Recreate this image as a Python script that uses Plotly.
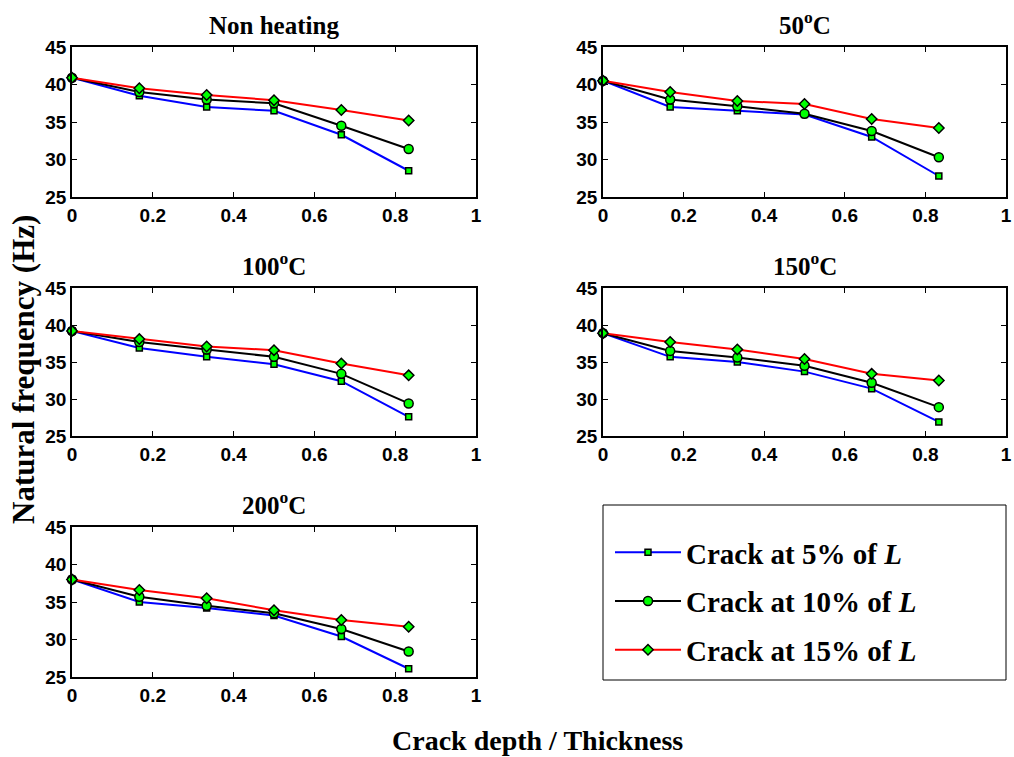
import plotly.graph_objects as go

depth = [0, 1/6, 2/6, 3/6, 4/6, 5/6]
panel_titles = ["Non heating", "50<sup>o</sup>C", "100<sup>o</sup>C", "150<sup>o</sup>C", "200<sup>o</sup>C"]
series_names = ["Crack at 5% of <i>L</i>", "Crack at 10% of <i>L</i>", "Crack at 15% of <i>L</i>"]

nonheat_5 = [40.9, 38.5, 37.0, 36.5, 33.3, 28.5]
nonheat_10 = [40.9, 39.0, 38.0, 37.5, 34.5, 31.4]
nonheat_15 = [40.9, 39.5, 38.6, 37.9, 36.6, 35.2]

t50_5 = [40.5, 37.0, 36.5, 36.0, 33.0, 27.8]
t50_10 = [40.5, 38.0, 37.1, 36.1, 33.8, 30.3]
t50_15 = [40.5, 39.0, 37.8, 37.4, 35.4, 34.2]

t100_5 = [39.2, 36.9, 35.7, 34.7, 32.4, 27.6]
t100_10 = [39.2, 37.7, 36.7, 35.7, 33.4, 29.4]
t100_15 = [39.2, 38.1, 37.1, 36.6, 34.8, 33.2]

t150_5 = [38.9, 35.7, 35.0, 33.7, 31.4, 26.9]
t150_10 = [38.9, 36.5, 35.6, 34.5, 32.2, 28.9]
t150_15 = [38.9, 37.7, 36.7, 35.4, 33.4, 32.5]

t200_5 = [38.0, 35.0, 34.2, 33.2, 30.4, 26.1]
t200_10 = [38.0, 35.7, 34.5, 33.5, 31.4, 28.4]
t200_15 = [38.0, 36.6, 35.5, 33.9, 32.6, 31.7]

panel_data = [
    (nonheat_5, nonheat_10, nonheat_15),
    (t50_5, t50_10, t50_15),
    (t100_5, t100_10, t100_15),
    (t150_5, t150_10, t150_15),
    (t200_5, t200_10, t200_15),
]

W, H = 1014, 757


def px(x):
    return x / W


def py(y):
    return 1 - y / H


col_px = [(72, 476), (603, 1006)]
row_px = [(47, 197), (288, 436), (527, 677)]
positions = [(0, 0), (0, 1), (1, 0), (1, 1), (2, 0)]

line_colors = ["#0000ff", "#000000", "#ff0000"]
symbols = ["square", "circle", "diamond"]
msizes = [6, 9, 8]

fig = go.Figure()
tick_font = dict(family="Liberation Sans", size=19, color="black", weight="bold")
annotations = []

for p, (r, c) in enumerate(positions):
    ax = "" if p == 0 else str(p + 1)
    x0, x1 = col_px[c]
    ytop, ybot = row_px[r]
    xdom = [px(x0), px(x1)]
    ydom = [py(ybot), py(ytop)]
    for s in range(3):
        fig.add_trace(go.Scatter(
            x=depth, y=panel_data[p][s], mode="lines+markers",
            name=series_names[s], legendgroup=str(s), showlegend=(p == 0),
            line=dict(color=line_colors[s], width=2),
            marker=dict(symbol=symbols[s], size=msizes[s], color="#00ff00",
                        line=dict(color="black", width=1.5)),
            xaxis="x" + ax, yaxis="y" + ax, cliponaxis=False,
        ))
    common = dict(showgrid=False, zeroline=False, showline=True, linecolor="black",
                  linewidth=1.5, mirror="ticks", ticks="inside", ticklen=5,
                  tickcolor="black", tickwidth=1, tickfont=tick_font)
    fig.update_layout(**{
        "xaxis" + ax: dict(domain=xdom, range=[0, 1], tickvals=[0, 0.2, 0.4, 0.6, 0.8, 1],
                           ticktext=["0", "0.2", "0.4", "0.6", "0.8", "1"],
                           anchor="y" + ax, ticklabelstandoff=0, **common),
        "yaxis" + ax: dict(domain=ydom, range=[25, 45], tickvals=[25, 30, 35, 40, 45],
                           anchor="x" + ax, ticklabelstandoff=0, **common),
    })
    annotations.append(dict(
        text="<b>" + panel_titles[p] + "</b>", xref="paper", yref="paper",
        x=(xdom[0] + xdom[1]) / 2, y=ydom[1], xanchor="center", yanchor="bottom", yshift=6,
        showarrow=False, font=dict(family="Liberation Serif", size=25, color="black"),
    ))

annotations.append(dict(text="<b>Natural frequency (Hz)</b>", xref="paper", yref="paper",
                        x=px(23), y=py(370), xanchor="center", yanchor="middle",
                        textangle=-90, showarrow=False,
                        font=dict(family="Liberation Serif", size=31, color="black")))
annotations.append(dict(text="<b>Crack depth / Thickness</b>", xref="paper", yref="paper",
                        x=px(537), y=py(740), xanchor="center", yanchor="middle",
                        showarrow=False,
                        font=dict(family="Liberation Serif", size=28, color="black")))

fig.update_layout(
    width=W, height=H, margin=dict(l=0, r=0, t=0, b=0, autoexpand=False),
    paper_bgcolor="white", plot_bgcolor="white",
    annotations=annotations,
    shapes=[dict(type="rect", xref="paper", yref="paper",
                 x0=px(603), x1=px(1006), y0=py(680), y1=py(505),
                 line=dict(color="black", width=1), fillcolor="rgba(0,0,0,0)")],
    legend=dict(x=px(610), y=py(527), xanchor="left", yanchor="top",
                bgcolor="rgba(0,0,0,0)", borderwidth=0, traceorder="grouped",
                tracegroupgap=8, itemwidth=66,
                font=dict(family="Liberation Serif", size=29, color="black", weight="bold")),
)

fig.write_html("out.html", config={"displayModeBar": False},
               post_script="document.body.style.margin='0';document.body.style.overflow='hidden';")
